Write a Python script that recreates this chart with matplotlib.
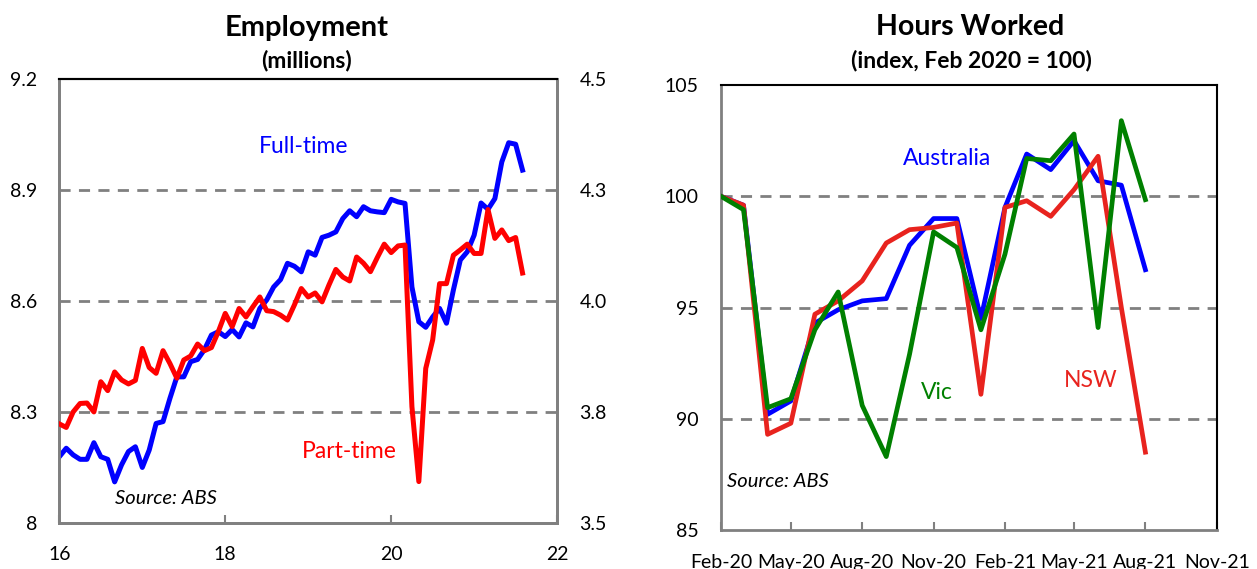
import numpy as np
import pandas as pd
import matplotlib
matplotlib.use("Agg")
from matplotlib import pyplot as plt
import matplotlib.dates as mdates

plt.rcParams['font.family'] = ['Lato', 'DejaVu Sans']

# ---- data ----
# employment, monthly from Jan 2016 to Aug 2021 (millions)
full_time = [8.180, 8.203, 8.185, 8.173, 8.173, 8.218, 8.180, 8.173, 8.112, 8.158,
             8.194, 8.207, 8.151, 8.198, 8.270, 8.275, 8.338, 8.396, 8.396, 8.437,
             8.443, 8.470, 8.509, 8.518, 8.505, 8.524, 8.504, 8.542, 8.531, 8.581,
             8.604, 8.639, 8.659, 8.703, 8.695, 8.680, 8.734, 8.725, 8.773, 8.779,
             8.788, 8.824, 8.845, 8.829, 8.856, 8.845, 8.842, 8.840, 8.876, 8.869,
             8.865, 8.639, 8.545, 8.530, 8.558, 8.581, 8.541, 8.631, 8.712, 8.734,
             8.779, 8.866, 8.849, 8.878, 8.977, 9.029, 9.025, 8.955]
part_time = [3.724, 3.716, 3.751, 3.770, 3.771, 3.751, 3.819, 3.799, 3.841, 3.823,
             3.814, 3.822, 3.894, 3.851, 3.838, 3.889, 3.860, 3.827, 3.868, 3.877,
             3.904, 3.889, 3.896, 3.932, 3.973, 3.943, 3.984, 3.965, 3.988, 4.010,
             3.979, 3.977, 3.969, 3.958, 3.992, 4.029, 4.010, 4.019, 3.999, 4.037,
             4.072, 4.055, 4.046, 4.100, 4.086, 4.067, 4.099, 4.129, 4.110, 4.125,
             4.127, 3.763, 3.594, 3.849, 3.913, 4.040, 4.040, 4.104, 4.116, 4.129,
             4.108, 4.108, 4.207, 4.142, 4.161, 4.137, 4.144, 4.064]
emp_years = 16 + np.arange(len(full_time)) / 12

# hours worked index, monthly Feb 2020 to Aug 2021
hours_months = pd.date_range("2020-02-01", "2021-08-01", freq="MS")
australia = [100.0, 99.6, 90.2, 90.8, 94.3, 94.9, 95.3, 95.4, 97.8, 99.0,
             99.0, 94.5, 99.5, 101.9, 101.2, 102.5, 100.7, 100.5, 96.7]
nsw = [100.0, 99.6, 89.3, 89.8, 94.7, 95.3, 96.2, 97.9, 98.5, 98.6,
       98.8, 91.1, 99.5, 99.8, 99.1, 100.3, 101.8, 95.0, 88.5]
vic = [100.0, 99.4, 90.5, 90.9, 94.0, 95.7, 90.6, 88.3, 92.9, 98.4,
       97.7, 94.0, 97.4, 101.7, 101.6, 102.8, 94.1, 103.4, 99.85]

emp_left_ticks = [8.0, 8.3, 8.6, 8.9, 9.2]
emp_left_labels = ['8', '8.3', '8.6', '8.9', '9.2']
emp_right_ticks = [3.5, 3.75, 4.0, 4.25, 4.5]
emp_right_labels = ['3.5', '3.8', '4.0', '4.3', '4.5']
hours_ticks = pd.date_range("2020-02-01", "2021-11-01", freq="3MS")

grey = '#808080'
fs = 14

fig = plt.figure(figsize=(12.57, 5.69), dpi=100)

# ---- Employment ----
ax1 = fig.add_axes([0.0472, 0.0803, 0.396, 0.780])
ax2 = ax1.twinx()
for y in [8.3, 8.6, 8.9]:
    ax1.axhline(y, color=grey, lw=2, ls=(0, (4, 3)), zorder=1)
ax1.plot(emp_years, full_time, color='#0000FF', lw=3.6, zorder=3)
ax2.plot(emp_years, part_time, color='#FF0000', lw=3.6, zorder=3)
ax1.set_xlim(16, 22)
ax1.set_ylim(8.0, 9.2)
ax2.set_ylim(3.5, 4.5)
ax1.set_yticks(emp_left_ticks, emp_left_labels)
ax2.set_yticks(emp_right_ticks, emp_right_labels)
ax1.set_xticks([16, 18, 20, 22], ['16', '18', '20', '22'])
ax1.tick_params(axis='y', length=0, pad=16, labelsize=fs)
ax2.tick_params(axis='y', length=0, pad=16, labelsize=fs)
ax1.tick_params(axis='x', direction='in', length=6, width=1.5, color=grey, pad=16.5, labelsize=fs)
for ax in (ax1, ax2):
    ax.spines['left'].set_color(grey)
    ax.spines['left'].set_linewidth(2)
    ax.spines['bottom'].set_color(grey)
    ax.spines['bottom'].set_linewidth(2)
    ax.spines['right'].set_color(grey)
    ax.spines['right'].set_linewidth(2)
    ax.spines['top'].set_color('black')
    ax.spines['top'].set_linewidth(1.5)
ax1.text(18.95, 9.02, 'Full-time', color='#0000FF', fontsize=16.5, ha='center', va='center')
ax1.text(19.5, 8.195, 'Part-time', color='#FF0000', fontsize=16.5, ha='center', va='center')
ax1.text(17.29, 8.068, 'Source: ABS', fontsize=14.5, style='italic', ha='center', va='center')
fig.text(0.244, 0.951, 'Employment', fontsize=21, fontweight='bold', ha='center', va='center')
fig.text(0.244, 0.894, '(millions)', fontsize=16.5, fontweight='bold', ha='center', va='center')

# ---- Hours Worked ----
ax3 = fig.add_axes([0.5736, 0.0685, 0.3944, 0.782])
for y in [90, 95, 100]:
    ax3.axhline(y, color=grey, lw=2, ls=(0, (4, 3)), zorder=1)
ax3.plot(hours_months, australia, color='#0000FF', lw=3.4, zorder=3)
ax3.plot(hours_months, nsw, color='#E8231E', lw=3.4, zorder=4)
ax3.plot(hours_months, vic, color='#008000', lw=3.4, zorder=5)
ax3.set_xlim(hours_ticks[0], hours_ticks[-1])
ax3.set_ylim(85, 105)
ax3.set_yticks([85, 90, 95, 100, 105])
ax3.set_xticks(hours_ticks)
ax3.xaxis.set_major_formatter(mdates.DateFormatter('%b-%y'))
ax3.tick_params(axis='y', length=0, pad=16, labelsize=fs)
ax3.tick_params(axis='x', direction='in', length=6, width=1.5, color=grey, pad=17.5, labelsize=fs)
ax3.spines['left'].set_color(grey)
ax3.spines['left'].set_linewidth(2)
ax3.spines['bottom'].set_color(grey)
ax3.spines['bottom'].set_linewidth(2)
ax3.spines['top'].set_linewidth(1.5)
ax3.spines['right'].set_linewidth(1.5)
ax3.text(pd.Timestamp("2020-11-19"), 101.72, 'Australia', color='#0000FF', fontsize=16.5, ha='center', va='center')
ax3.text(pd.Timestamp("2020-11-05"), 91.16, 'Vic', color='#008000', fontsize=16.5, ha='center', va='center')
ax3.text(pd.Timestamp("2021-05-22"), 91.74, 'NSW', color='#E8231E', fontsize=16.5, ha='center', va='center')
ax3.text(pd.Timestamp("2020-04-14"), 87.2, 'Source: ABS', fontsize=14.5, style='italic', ha='center', va='center')
fig.text(0.772, 0.952, 'Hours Worked', fontsize=20.5, fontweight='bold', ha='center', va='center')
fig.text(0.773, 0.894, '(index, Feb 2020 = 100)', fontsize=16.5, fontweight='bold', ha='center', va='center')

fig.savefig('out.png', dpi=100)
